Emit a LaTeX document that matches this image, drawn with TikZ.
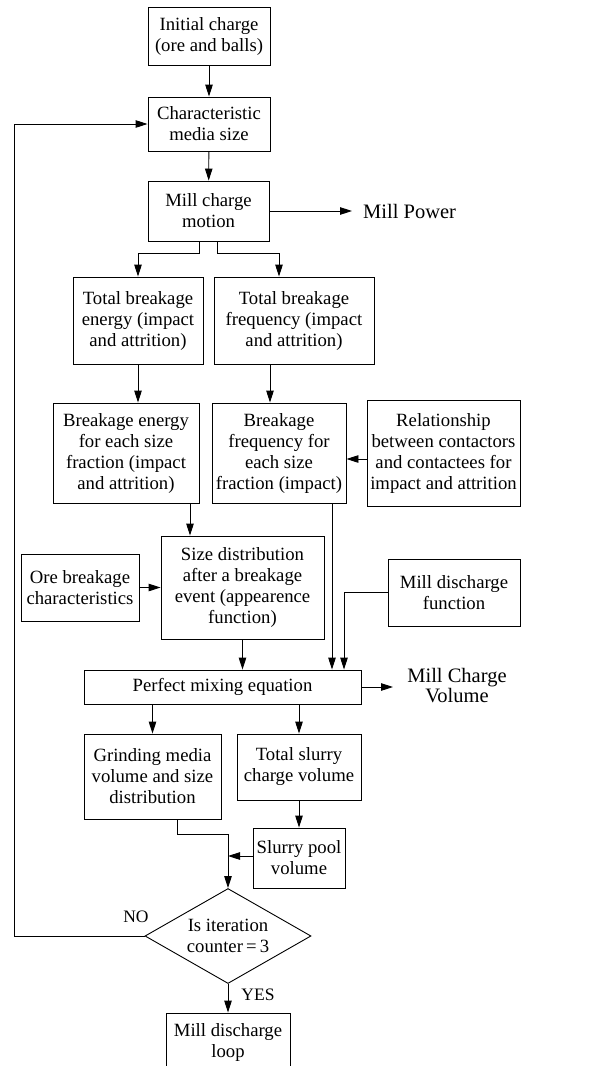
\documentclass[tikz,border=0pt]{standalone}
\usepackage{fontspec}
\setmainfont{Liberation Serif}
\usetikzlibrary{arrows.meta,shapes.geometric}
\begin{document}
\begin{tikzpicture}[x=1pt,y=-1pt,
  box/.style={draw,line width=0.9pt,align=center,inner sep=0pt,font=\fontsize{18.7}{21}\selectfont},
  arr/.style={line width=0.9pt,-{Triangle[length=12pt,width=7.5pt]}},
  ln/.style={line width=0.9pt},
  big/.style={align=center,font=\fontsize{20.5}{20}\selectfont,inner sep=0pt},
  lbl/.style={font=\fontsize{17.5}{20}\selectfont,inner sep=0pt}]
\useasboundingbox (0,0) rectangle (601,1066);
\clip (0,0) rectangle (601,1066);

% boxes
\node[box,minimum width=122,minimum height=58] (init) at (209,36) {Initial charge\\(ore and balls)};
\node[box,minimum width=122,minimum height=54] (cms) at (209,124) {Characteristic\\media size};
\node[box,minimum width=121,minimum height=60] (mcm) at (208.5,211) {Mill charge\\motion};
\node[big,anchor=west] (mp) at (363,211) {Mill Power};
\node[box,minimum width=130,minimum height=87] (tbe) at (138,320.5) {Total breakage\\energy (impact\\and attrition)};
\node[box,minimum width=160,minimum height=87] (tbf) at (294,320.5) {Total breakage\\frequency (impact\\and attrition)};
\node[box,minimum width=146,minimum height=100] (be) at (126,453) {Breakage energy\\for each size\\fraction (impact\\and attrition)};
\node[box,minimum width=134,minimum height=100] (bf) at (279,453) {Breakage\\frequency for\\each size\\fraction (impact)};
\node[box,minimum width=153,minimum height=106] (rel) at (443.5,453) {Relationship\\between contactors\\and contactees for\\impact and attrition};
\node[box,minimum width=163,minimum height=103] (sd) at (242.5,587.5) {Size distribution\\after a breakage\\event (appearence\\function)};
\node[box,minimum width=118,minimum height=67] (ore) at (80,587.5) {Ore breakage\\characteristics};
\node[box,minimum width=132,minimum height=67] (mdf) at (454,592.5) {Mill discharge\\function};
\node[box,minimum width=277,minimum height=34] (pm) at (222.5,687) {Perfect mixing equation};
\node[big] (mcv) at (457,686) {Mill Charge\\Volume};
\node[box,minimum width=137,minimum height=85] (gm) at (152.5,776.5) {Grinding media\\volume and size\\distribution};
\node[box,minimum width=124,minimum height=66] (ts) at (299,767) {Total slurry\\charge volume};
\node[box,minimum width=92,minimum height=60] (sp) at (299,858) {Slurry pool\\volume};
\node[box,diamond,aspect=1.75,minimum width=166,minimum height=95] (dia) at (228,936) {Is iteration\\counter\,=\,3};
\node[box,minimum width=124,minimum height=58] (mdl) at (228,1042) {Mill discharge\\loop};
\node[lbl] (no) at (136,917) {NO};
\node[lbl] (yes) at (258,995) {YES};

% helper coordinates
\coordinate (mpe) at (352,211);
\coordinate (mcve) at (393,687);
\coordinate (lpx) at (14,936);
\coordinate (m1) at ([xshift=-9.5pt]mcm.south);
\coordinate (m2) at ([xshift=8.5pt]mcm.south);
\coordinate (tbfin) at ([xshift=-15pt]tbf.north);
\coordinate (tbfout) at ([xshift=-24pt]tbf.south);
\coordinate (relout) at ([yshift=-6pt]rel.west);
\coordinate (bfout) at ([xshift=53pt]bf.south);
\coordinate (beout) at ([xshift=64pt]be.south);
\coordinate (pmin1) at ([xshift=121.5pt]pm.north);
\coordinate (gmout) at ([xshift=24.5pt]gm.south);
\coordinate (spout) at ([yshift=2pt]sp.west);

% connectors
\draw[arr] (init) -- (cms);
\draw[arr] (dia.west) -- (lpx) |- (cms.west);
\draw[arr] (cms) -- (mcm);
\draw[arr] (mcm.east) -- (mpe);
\draw[arr] (m1) -- ++(0,12) -| (tbe.north);
\draw[arr] (m2) -- ++(0,12) -| (tbfin);
\draw[arr] (tbe.south) -- (tbe.south |- be.north);
\draw[arr] (tbfout) -- (tbfout |- bf.north);
\draw[arr] (relout) -- (relout -| bf.east);
\draw[arr] (beout) -- (beout |- sd.north);
\draw[arr] (bfout) -- (bfout |- pm.north);
\draw[arr] (ore.east) -- (sd.west);
\draw[arr] (mdf.west) -| (pmin1);
\draw[arr] (sd.south) -- (sd.south |- pm.north);
\draw[arr] (pm.east) -- (mcve);
\draw[arr] (gm.north |- pm.south) -- (gm.north);
\draw[arr] (ts.north |- pm.south) -- (ts.north);
\draw[arr] (ts) -- (sp);
\draw[arr] (gmout) -- ++(0,15) -| (dia.north);
\draw[arr] (spout) -- (spout -| dia.north);
\draw[arr] (dia.south) -- (mdl.north);
\end{tikzpicture}
\end{document}
